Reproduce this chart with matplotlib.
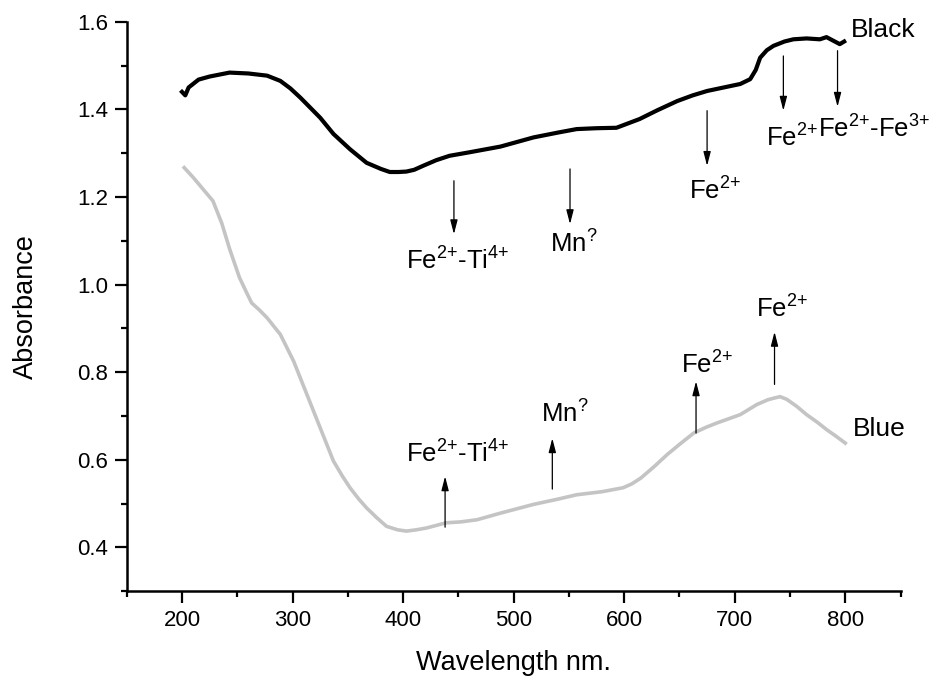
import matplotlib
matplotlib.use("Agg")
import matplotlib.pyplot as plt
from matplotlib.ticker import MultipleLocator, FormatStrFormatter

plt.rcParams["font.family"] = ["Liberation Sans", "DejaVu Sans"]
plt.rcParams["mathtext.fontset"] = "custom"
plt.rcParams["mathtext.rm"] = "Liberation Sans"
plt.rcParams["mathtext.it"] = "Liberation Sans:italic"
plt.rcParams["mathtext.default"] = "regular"

# Absorption spectra (wavelength in nm, absorbance)
black_wl = [200, 203, 206, 210, 215, 225, 243, 260, 277, 289, 298, 307, 316, 325, 337,
            352, 367, 380, 388, 396, 403, 410, 418, 430, 442, 460, 488, 518, 540, 557,
            575, 593, 614, 630, 648, 662, 675, 690, 705, 714, 719, 723, 729, 735, 745,
            753, 765, 777, 783, 789, 795, 799]
black_ab = [1.440, 1.432, 1.450, 1.458, 1.468, 1.475, 1.484, 1.482, 1.477, 1.465, 1.448, 1.427,
            1.404, 1.381, 1.344, 1.309, 1.278, 1.264, 1.257, 1.257, 1.258, 1.262, 1.271,
            1.284, 1.294, 1.302, 1.315, 1.336, 1.347, 1.355, 1.357, 1.358, 1.378, 1.398,
            1.419, 1.432, 1.442, 1.450, 1.458, 1.469, 1.490, 1.518, 1.535, 1.545, 1.555,
            1.560, 1.562, 1.560, 1.565, 1.557, 1.549, 1.555]

blue_wl = [202, 210, 220, 228, 236, 243, 252, 258, 263, 270, 277, 289, 301, 313, 325,
           337, 345, 352, 360, 367, 376, 385, 395, 403, 412, 421, 439, 452, 467, 488,
           518, 540, 557, 580, 599, 607, 615, 627, 639, 651, 663, 674, 684, 705, 720,
           730, 736, 741, 747, 756, 765, 775, 783, 792, 800]
blue_ab = [1.267, 1.245, 1.215, 1.191, 1.140, 1.082, 1.016, 0.984, 0.958, 0.942, 0.924,
           0.886, 0.825, 0.749, 0.673, 0.597, 0.563, 0.536, 0.510, 0.490, 0.468, 0.448,
           0.440, 0.437, 0.440, 0.444, 0.456, 0.458, 0.463, 0.478, 0.498, 0.510, 0.520,
           0.527, 0.536, 0.545, 0.558, 0.584, 0.612, 0.637, 0.661, 0.674, 0.684, 0.703,
           0.726, 0.737, 0.741, 0.744, 0.738, 0.722, 0.703, 0.685, 0.669, 0.653, 0.638]

FE_TI = r"Fe$^{2{+}}$-Ti$^{4{+}}$"
MN = r"Mn$^{?}$"
FE2 = r"Fe$^{2{+}}$"
FE_FE = r"Fe$^{2{+}}$-Fe$^{3{+}}$"

# Band assignments: (label, arrow wavelength, arrow tail, arrow tip, label x, label baseline)
black_bands = [
    (FE_TI, 446, 1.237, 1.115, 449, 1.035),
    (MN, 551, 1.264, 1.138, 554, 1.072),
    (FE2, 675, 1.397, 1.271, 682, 1.193),
    (FE2, 744, 1.522, 1.397, 752, 1.315),
    (FE_FE, 793, 1.534, 1.406, 826, 1.336),
]
blue_bands = [
    (FE_TI, 438, 0.446, 0.562, 449, 0.593),
    (MN, 535, 0.533, 0.649, 546, 0.684),
    (FE2, 665, 0.661, 0.779, 675, 0.796),
    (FE2, 736, 0.772, 0.892, 743, 0.924),
]

fig = plt.figure(figsize=(9.42, 6.81), dpi=100)
ax = fig.add_axes([0.1345, 0.132, 0.8215, 0.836])

ax.plot(black_wl, black_ab, color="black", lw=3.0, solid_joinstyle="round")
ax.plot(blue_wl, blue_ab, color="#c4c4c4", lw=2.6, solid_joinstyle="round")

arrow_style = dict(arrowstyle="-|>,head_length=0.85,head_width=0.22",
                   color="black", lw=0.9, shrinkA=0, shrinkB=0, mutation_scale=10)
for label, wl, tail, tip, lx, ly in black_bands + blue_bands:
    ax.annotate("", xy=(wl, tip), xytext=(wl, tail), arrowprops=arrow_style)
    ax.text(lx, ly, label, fontsize=18.5, ha="center", va="baseline")

ax.text(834, 1.566, "Black", fontsize=19, ha="center", va="baseline")
ax.text(831, 0.654, "Blue", fontsize=19, ha="center", va="baseline")

ax.set_xlim(150, 850)
ax.set_ylim(0.3, 1.6)
ax.set_xticks([200, 300, 400, 500, 600, 700, 800])
ax.set_yticks([0.4, 0.6, 0.8, 1.0, 1.2, 1.4, 1.6])
ax.xaxis.set_minor_locator(MultipleLocator(50))
ax.yaxis.set_minor_locator(MultipleLocator(0.1))
ax.yaxis.set_major_formatter(FormatStrFormatter("%.1f"))

for side in ("top", "right"):
    ax.spines[side].set_visible(False)
for side in ("left", "bottom"):
    ax.spines[side].set_linewidth(1.8)

ax.tick_params(which="major", direction="out", length=8.5, width=1.6, labelsize=16, pad=5)
ax.tick_params(which="minor", direction="out", length=4.5, width=1.6)

ax.set_xlabel("Wavelength nm.", fontsize=19.5, labelpad=14)
ax.set_ylabel("Absorbance", fontsize=19.5, labelpad=27)

fig.savefig("out.png", dpi=100)
